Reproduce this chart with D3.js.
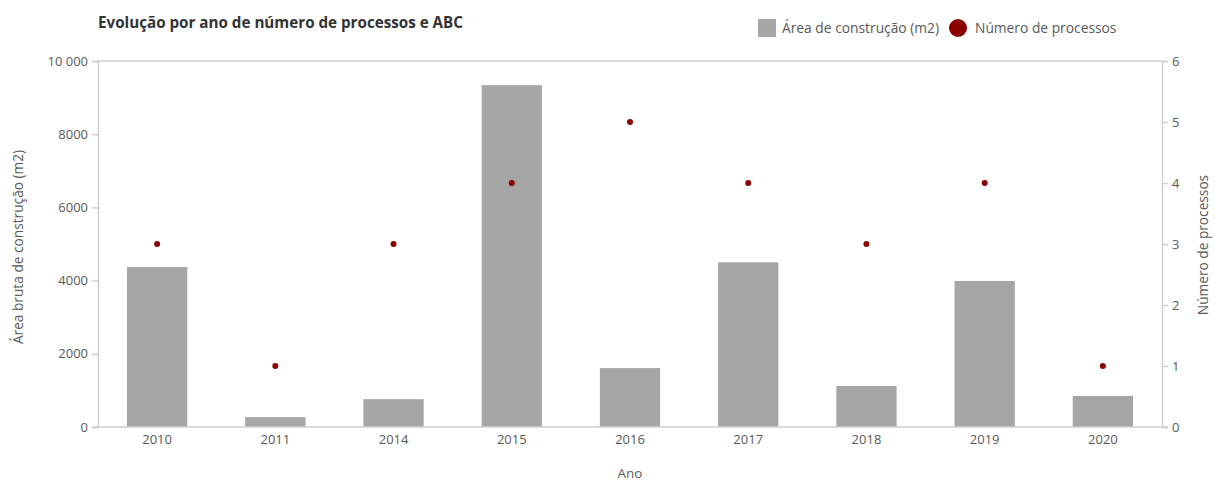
<!DOCTYPE html>
<html><head><meta charset="utf-8">
<script src="https://cdn.jsdelivr.net/npm/d3@7"></script>
<style>
body{margin:0;background:#fff;}
text{font-family:"Open Sans","Noto Sans",sans-serif;}
</style></head>
<body><svg id="c" width="1215" height="482"></svg>
<script>
const years = ["2010","2011","2014","2015","2016","2017","2018","2019","2020"];
const area = [4370, 270, 760, 9340, 1610, 4500, 1120, 3990, 850];
const processos = [3, 1, 3, 4, 5, 4, 3, 4, 1];
const leftTicks = [0, 2000, 4000, 6000, 8000, 10000];
const leftTickLabels = ["0", "2000", "4000", "6000", "8000", "10 000"];
const rightTicks = [0, 1, 2, 3, 4, 5, 6];

const svg = d3.select("#c");
const L = 98, R = 1162, T = 61, B = 427;
const axisColor = "#cfcfcf", textColor = "#595959";

const x = d3.scaleBand().domain(years).range([L, R]).paddingInner(0.49).paddingOuter(0.245);
const y = d3.scaleLinear().domain([0, 10000]).range([B, T]);
const y2 = d3.scaleLinear().domain([0, 6]).range([B, T]);

// top gridline
svg.append("line").attr("x1", L).attr("x2", R).attr("y1", y(10000)).attr("y2", y(10000))
  .attr("stroke", axisColor).attr("stroke-width", 1.5);

// bars
svg.selectAll("rect.bar").data(area).enter().append("rect").attr("class","bar")
  .attr("x", (d,i) => x(years[i])).attr("width", x.bandwidth())
  .attr("y", d => y(d)).attr("height", d => B - y(d)).attr("fill", "#a6a6a6");

// axes
const gl = svg.append("g").attr("transform", `translate(${L},0)`)
  .call(d3.axisLeft(y).tickValues(leftTicks).tickFormat((d,i) => leftTickLabels[i]).tickSize(6).tickPadding(4));
const gr = svg.append("g").attr("transform", `translate(${R},0)`)
  .call(d3.axisRight(y2).tickValues(rightTicks).tickFormat(d3.format("d")).tickSize(6).tickPadding(4));
const gb = svg.append("g").attr("transform", `translate(0,${B})`)
  .call(d3.axisBottom(x).tickSize(0).tickPadding(8));
[gl, gr, gb].forEach(g => {
  g.selectAll("path.domain").attr("stroke", axisColor).attr("stroke-width", 1.5);
  g.selectAll(".tick line").attr("stroke", axisColor).attr("stroke-width", 1.5);
  g.selectAll("text").attr("fill", textColor).style("font-size", "13px").attr("font-family", null);
});
gb.select("path.domain").attr("d", `M${L-6},0H${R+6}`);

// dots
svg.selectAll("circle.pt").data(processos).enter().append("circle").attr("class","pt")
  .attr("cx", (d,i) => x(years[i]) + x.bandwidth()/2).attr("cy", d => y2(d))
  .attr("r", 3).attr("fill", "#8b0000");

// title
svg.append("text").attr("x", 98).attr("y", 28).text("Evolução por ano de número de processos e ABC")
  .attr("fill", "#333").style("font-size", "15.2px").style("font-weight", "bold");

// axis titles
svg.append("text").attr("transform", "translate(23,247) rotate(-90)").attr("text-anchor","middle")
  .text("Área bruta de construção (m2)").attr("fill", textColor).style("font-size","13.7px");
svg.append("text").attr("transform", "translate(1208,245) rotate(-90)").attr("text-anchor","middle")
  .text("Número de processos").attr("fill", textColor).style("font-size","13.7px");
svg.append("text").attr("x", 630).attr("y", 478).attr("text-anchor","middle")
  .text("Ano").attr("fill", textColor).style("font-size","13.5px");

// legend
svg.append("rect").attr("x", 758).attr("y", 19).attr("width", 18).attr("height", 18).attr("fill", "#a6a6a6");
svg.append("text").attr("x", 782).attr("y", 33).text("Área de construção (m2)").attr("fill", textColor).style("font-size","13.8px");
svg.append("circle").attr("cx", 958).attr("cy", 28).attr("r", 9).attr("fill", "#8b0000");
svg.append("text").attr("x", 975).attr("y", 33).text("Número de processos").attr("fill", textColor).style("font-size","13.8px");
</script></body></html>
